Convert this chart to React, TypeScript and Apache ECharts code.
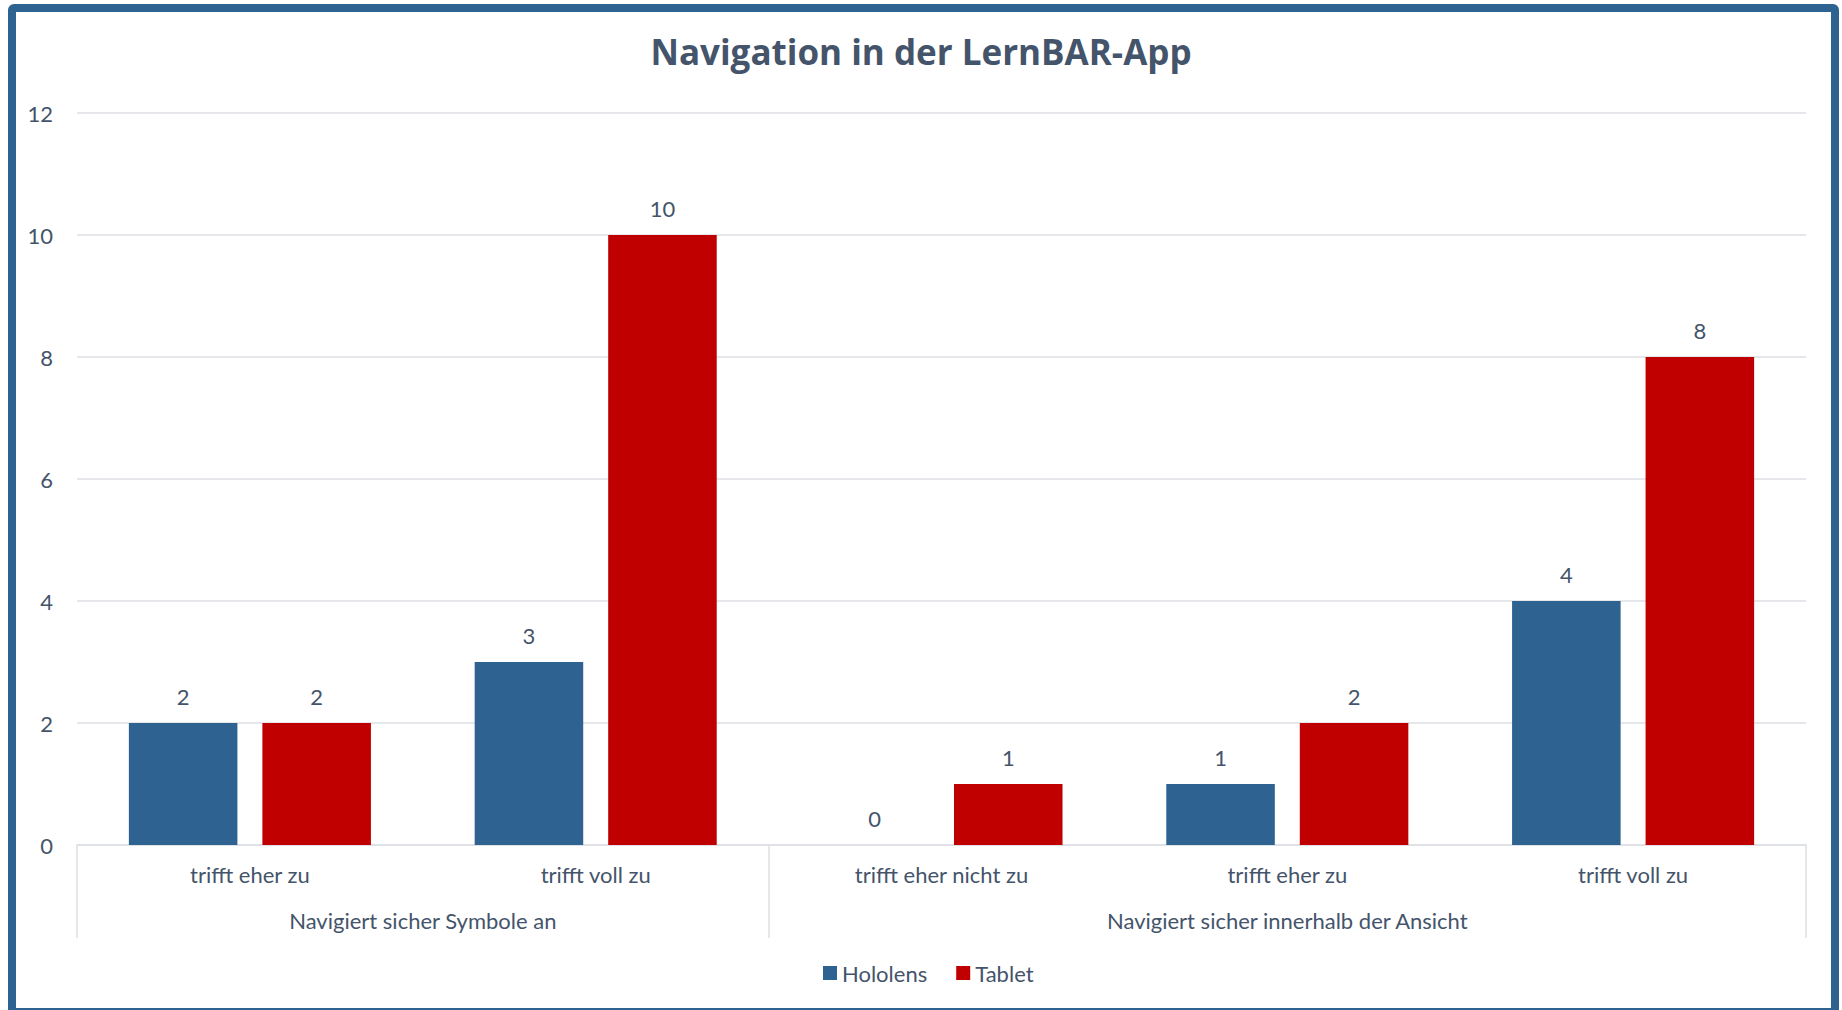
import React, { useEffect, useRef } from "react";
import * as echarts from "echarts";

const title = "Navigation in der LernBAR-App";
const categories = [
  "trifft eher zu",
  "trifft voll zu",
  "trifft eher nicht zu",
  "trifft eher zu",
  "trifft voll zu",
];
const groups = ["Navigiert sicher Symbole an", "Navigiert sicher innerhalb der Ansicht"];
const groupSizes = [2, 3];
const seriesNames = ["Hololens", "Tablet"];
const hololens = [2, 3, 0, 1, 4];
const tablet = [2, 10, 1, 2, 8];
const yMin = 0;
const yMax = 12;
const yInterval = 2;

const FONT = "Lato, 'Open Sans', sans-serif";
const TITLE_FONT = "'Open Sans', Lato, sans-serif";
const TEXT = "#44546A";
const GRIDC = "#DCDFE4";

export default function App() {
  const ref = useRef<HTMLDivElement>(null);
  useEffect(() => {
    if (!ref.current) return;
    const chart = echarts.init(ref.current, undefined, { renderer: "svg" });
    const bounds: number[] = [0];
    groupSizes.forEach((s) => bounds.push(bounds[bounds.length - 1] + s));
    const centers = groupSizes.map((s, i) => bounds[i] + s / 2);
    const total = bounds[bounds.length - 1];
    const label = {
      show: true,
      position: "top",
      distance: 16,
      fontSize: 22,
      color: TEXT,
      fontFamily: FONT,
    };
    chart.setOption({
      animation: false,
      backgroundColor: "#ffffff",
      textStyle: { fontFamily: FONT },
      title: {
        text: title,
        left: "center",
        top: 29,
        textStyle: { fontSize: 35, fontWeight: "bold", color: TEXT, fontFamily: TITLE_FONT },
      },
      grid: { left: 77, right: 36, top: 113, bottom: 165, containLabel: false, outerBoundsMode: "none" },
      legend: {
        data: seriesNames,
        left: 818,
        top: 957,
        icon: "rect",
        itemWidth: 14,
        itemHeight: 14,
        itemGap: 29,
        textStyle: { fontSize: 22, color: TEXT, fontFamily: FONT },
      },
      xAxis: [
        {
          type: "category",
          data: categories,
          position: "bottom",
          axisLine: { show: true, lineStyle: { color: GRIDC, width: 1.5 } },
          axisTick: { show: false },
          axisLabel: { fontSize: 22, color: TEXT, fontFamily: FONT, margin: 18, interval: 0 },
        },
        {
          type: "value",
          min: 0,
          max: total,
          position: "bottom",
          axisLine: { show: false },
          splitLine: { show: false },
          axisTick: {
            show: true,
            customValues: bounds,
            length: 93,
            lineStyle: { color: GRIDC, width: 1.5 },
          },
          axisLabel: {
            show: true,
            customValues: centers,
            margin: 64,
            fontSize: 22,
            color: TEXT,
            fontFamily: FONT,
            formatter: (v: number) => {
              const i = centers.findIndex((c) => Math.abs(c - v) < 1e-6);
              return i >= 0 ? groups[i] : "";
            },
          },
        },
      ],
      yAxis: {
        type: "value",
        min: yMin,
        max: yMax,
        interval: yInterval,
        axisLine: { show: false },
        axisTick: { show: false },
        splitLine: { lineStyle: { color: GRIDC, width: 1.5 } },
        axisLabel: { fontSize: 22, color: TEXT, fontFamily: FONT, margin: 24 },
      },
      series: [
        {
          name: seriesNames[0],
          type: "bar",
          xAxisIndex: 0,
          data: hololens,
          itemStyle: { color: "#2E6391" },
          barGap: "23%",
          barCategoryGap: "30%",
          label,
        },
        {
          name: seriesNames[1],
          type: "bar",
          xAxisIndex: 0,
          data: tablet,
          itemStyle: { color: "#C00000" },
          barGap: "23%",
          barCategoryGap: "30%",
          label,
        },
      ],
    });
    return () => chart.dispose();
  }, []);
  return (
    <div style={{ position: "fixed", left: 0, top: 0, width: 1842, height: 1010, background: "#fff" }}>
      <div ref={ref} style={{ position: "absolute", left: 0, top: 0, width: 1842, height: 1010 }} />
      <div
        style={{
          position: "absolute",
          left: 8,
          top: 4,
          width: 1831,
          height: 1012,
          border: "8px solid #2E6391",
          borderRadius: 6,
          boxSizing: "border-box",
          pointerEvents: "none",
        }}
      />
    </div>
  );
}
